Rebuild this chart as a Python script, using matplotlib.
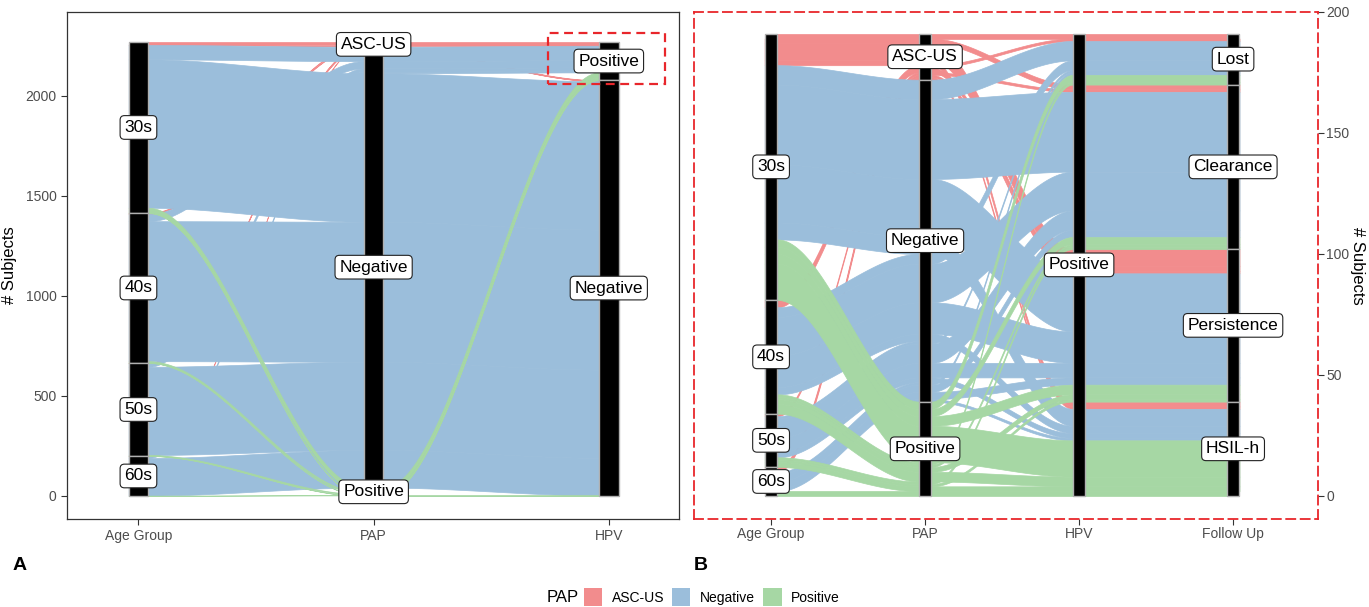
import matplotlib.pyplot as plt
from matplotlib.patches import Rectangle, Patch
import numpy as np

plt.rcParams['font.family'] = ['Liberation Sans', 'DejaVu Sans']

age_levels = ['30s', '40s', '50s', '60s']
pap_levels = ['ASC-US', 'Negative', 'Positive']
hpv_levels = ['Positive', 'Negative']
fu_levels = ['Lost', 'Clearance', 'Persistence', 'HSIL-h']

# panel A: whole cohort (age group x PAP x HPV)
a_age = ['30s', '30s', '30s', '40s', '40s', '40s', '50s', '50s', '50s', '60s', '60s', '60s',
         '30s', '30s', '30s', '40s', '40s', '40s', '50s', '50s', '50s', '60s']
a_pap = ['ASC-US', 'Negative', 'Positive'] * 4 + \
        ['ASC-US', 'Negative', 'Positive'] * 3 + ['Negative']
a_hpv = ['Positive'] * 12 + ['Negative'] * 10
a_n = [13, 72, 25, 3, 36, 8, 1, 17, 4, 2, 8, 2,
       2, 742, 1, 2, 700, 1, 1, 441, 1, 188]

# panel B: HPV positive subset (age group x PAP x follow up)
b_age = ['30s'] * 4 + ['40s'] * 2 + ['50s'] + ['60s'] * 2 + \
        ['30s'] * 4 + ['40s'] * 4 + ['50s'] * 4 + ['60s'] * 4 + \
        ['30s'] * 4 + ['40s'] * 4 + ['50s'] * 3 + ['60s']
b_pap = ['ASC-US'] * 9 + ['Negative'] * 16 + ['Positive'] * 12
b_fu = ['Lost', 'Clearance', 'Persistence', 'HSIL-h', 'Lost', 'Persistence', 'Clearance',
        'Persistence', 'HSIL-h'] + \
       ['Lost', 'Clearance', 'Persistence', 'HSIL-h'] * 4 + \
       ['Lost', 'Clearance', 'Persistence', 'HSIL-h'] * 2 + \
       ['Clearance', 'Persistence', 'HSIL-h', 'HSIL-h']
b_n = [2, 2, 7, 2, 1, 2, 1, 1, 1,
       8, 33, 24, 7, 4, 16, 13, 3, 1, 8, 6, 2, 1, 3, 3, 1,
       3, 3, 4, 15, 1, 1, 2, 4, 1, 1, 2, 2]
b_hpv = ['Positive'] * len(b_n)

pap_colors = {'ASC-US': '#F28C8D', 'Negative': '#9BBEDB', 'Positive': '#A6D7A4'}


def zigzag(n, i):
    order = []
    left_first = (i + 1) <= n / 2
    for d in range(1, n):
        for c in ([i - d, i + d] if left_first else [i + d, i - d]):
            if 0 <= c < n:
                order.append(c)
    return order


def alluvial(ax, columns, levels, counts, w=1 / 12):
    n_ax = len(columns)
    codes = [[levels[k].index(v) for v in columns[k]] for k in range(n_ax)]
    total = sum(counts)
    tops = np.zeros((len(counts), n_ax))
    for i in range(n_ax):
        keys = [i] + zigzag(n_ax, i)
        order = sorted(range(len(counts)), key=lambda r: tuple(codes[k][r] for k in keys))
        y = total
        for r in order:
            tops[r, i] = y
            y -= counts[r]

    xs = np.arange(1, n_ax + 1)
    u = np.linspace(0, 1, 60)
    s = 3 * u ** 2 - 2 * u ** 3
    pap_col = columns[1]
    draw = sorted(range(len(counts)), key=lambda r: pap_levels.index(pap_col[r]))
    for r in draw:
        px, py = [], []
        for i in range(n_ax):
            px += [xs[i] - w / 2, xs[i] + w / 2]
            py += [tops[r, i], tops[r, i]]
            if i < n_ax - 1:
                x0, x1 = xs[i] + w / 2, xs[i + 1] - w / 2
                px += list(x0 + u * (x1 - x0))
                py += list(tops[r, i] + (tops[r, i + 1] - tops[r, i]) * s)
        px, py = np.array(px), np.array(py)
        col = pap_colors[pap_col[r]]
        ax.fill_between(px, py, py - counts[r], facecolor=col, edgecolor=col,
                        lw=0.5, zorder=1)

    for i in range(n_ax):
        y = total
        for lev in levels[i]:
            h = sum(c for v, c in zip(columns[i], counts) if v == lev)
            if h == 0:
                continue
            ax.add_patch(Rectangle((xs[i] - w / 2, y - h), w, h, facecolor='black',
                                   edgecolor='#B0B0B0', lw=1, zorder=2))
            ax.text(xs[i], y - h / 2, lev, ha='center', va='center', fontsize=12.5,
                    zorder=4, bbox=dict(boxstyle='round,pad=0.25,rounding_size=0.25',
                                        fc='white', ec='#222222', lw=0.8))
            y -= h


fig = plt.figure(figsize=(13.69, 6.07), dpi=100)

# ---- panel A
axA = fig.add_axes([0.0489, 0.145, 0.447, 0.8353])
alluvial(axA, [a_age, a_pap, a_hpv], [age_levels, pap_levels, hpv_levels], a_n)
axA.set_xlim(0.696, 3.298)
axA.set_ylim(-115, 2420)
axA.set_xticks([1, 2, 3])
axA.set_xticklabels(['Age Group', 'PAP', 'HPV'])
axA.set_yticks([0, 500, 1000, 1500, 2000])
axA.set_ylabel('# Subjects', fontsize=12, labelpad=6)
for sp in axA.spines.values():
    sp.set_color('#333333')
    sp.set_linewidth(0.9)
axA.tick_params(colors='#333333', labelcolor='#4D4D4D', labelsize=10, length=4)
axA.add_patch(Rectangle((2.743, 2060), 0.497, 255, fill=False, edgecolor='#E8262B',
                        lw=1.6, ls=(0, (4, 2.5)), zorder=5))

# ---- panel B
axB = fig.add_axes([0.507, 0.145, 0.4558, 0.8353])
alluvial(axB, [b_age, b_pap, b_hpv, b_fu],
         [age_levels, pap_levels, hpv_levels, fu_levels], b_n)
axB.set_xlim(0.5, 4.552)
axB.set_ylim(-9.5, 200)
axB.set_xticks([1, 2, 3, 4])
axB.set_xticklabels(['Age Group', 'PAP', 'HPV', 'Follow Up'])
axB.set_yticks([0, 50, 100, 150, 200])
axB.yaxis.tick_right()
axB.yaxis.set_label_position('right')
axB.set_ylabel('# Subjects', fontsize=12, rotation=-90, va='bottom', labelpad=0)
for sp in axB.spines.values():
    sp.set_color('#E8262B')
    sp.set_linewidth(1.3)
    sp.set_linestyle((0, (5, 3)))
axB.tick_params(colors='#333333', labelcolor='#4D4D4D', labelsize=10, length=4, pad=2)

fig.text(0.009, 0.069, 'A', fontsize=14, fontweight='bold', va='center')
fig.text(0.507, 0.069, 'B', fontsize=14, fontweight='bold', va='center')

handles = [Patch(facecolor=pap_colors[p], edgecolor='none') for p in pap_levels]
fig.text(0.399, 0.016, 'PAP', fontsize=12, va='center')
fig.legend(handles, pap_levels, loc='center', bbox_to_anchor=(0.52, 0.016), ncol=3,
           frameon=False, fontsize=10, handlelength=1.3, handleheight=1.6,
           columnspacing=0.6, handletextpad=0.7)

fig.savefig('out.png', dpi=100)
